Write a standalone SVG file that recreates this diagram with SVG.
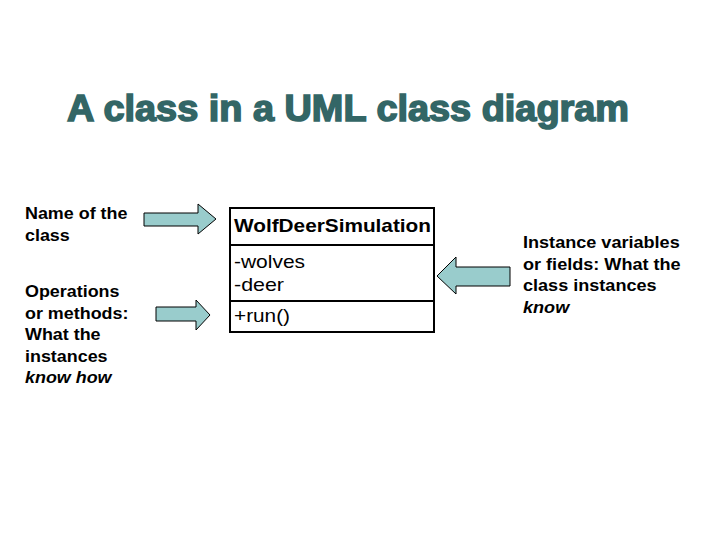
<svg xmlns="http://www.w3.org/2000/svg" width="720" height="540" viewBox="0 0 720 540">
<style>
.lbl{font-family:"Liberation Sans",Arial,sans-serif;font-size:16px;font-weight:bold;fill:#000}
.cls{font-family:"Liberation Sans",Arial,sans-serif;font-size:19px;fill:#000}
.arrow{fill:#99CCCC;stroke:#000;stroke-width:1}
.box{fill:#fff;stroke:#000;stroke-width:2}
</style>
<rect width="720" height="540" fill="#fff"/>
<text x="67" y="121" font-family="'Liberation Sans',Arial,sans-serif" font-size="37" font-weight="bold" fill="#336666" stroke="#336666" stroke-width="1.6" textLength="562" lengthAdjust="spacingAndGlyphs">A class in a UML class diagram</text>
<g id="class-node">
<rect class="box" x="230" y="208" width="204" height="124"/>
<line x1="230" y1="245" x2="434" y2="245" stroke="#000" stroke-width="2"/>
<line x1="230" y1="301" x2="434" y2="301" stroke="#000" stroke-width="2"/>
<text class="cls" x="234" y="232" font-weight="bold" textLength="197" lengthAdjust="spacingAndGlyphs">WolfDeerSimulation</text>
<text class="cls" x="234" y="268" textLength="71" lengthAdjust="spacingAndGlyphs">-wolves</text>
<text class="cls" x="234" y="291" textLength="50" lengthAdjust="spacingAndGlyphs">-deer</text>
<text class="cls" x="234" y="322" textLength="56" lengthAdjust="spacingAndGlyphs">+run()</text>
</g>
<g id="label-name" transform="translate(25,0) scale(1.12,1) translate(-25,0)">
<text class="lbl" x="25" y="219">Name of the</text>
<text class="lbl" x="25" y="241">class</text>
</g>
<g id="label-ops" transform="translate(25,0) scale(1.12,1) translate(-25,0)">
<text class="lbl" x="25" y="297">Operations</text>
<text class="lbl" x="25" y="319">or methods:</text>
<text class="lbl" x="25" y="340">What the</text>
<text class="lbl" x="25" y="362">instances</text>
<text class="lbl" x="25" y="383" font-style="italic">know how</text>
</g>
<g id="label-fields" transform="translate(523,0) scale(1.13,1) translate(-523,0)">
<text class="lbl" x="523" y="248">Instance variables</text>
<text class="lbl" x="523" y="270">or fields: What the</text>
<text class="lbl" x="523" y="291">class instances</text>
<text class="lbl" x="523" y="313" font-style="italic">know</text>
</g>
<g id="connectors">
<polygon class="arrow" points="144,213 198,213 198,204 216,219 198,234 198,226 144,226"/>
<polygon class="arrow" points="156,307 196,307 196,300 210,315 196,330 196,321 156,321"/>
<polygon class="arrow" points="510,267 456,267 456,257 437,276 456,294 456,286 510,286"/>
</g>
</svg>
